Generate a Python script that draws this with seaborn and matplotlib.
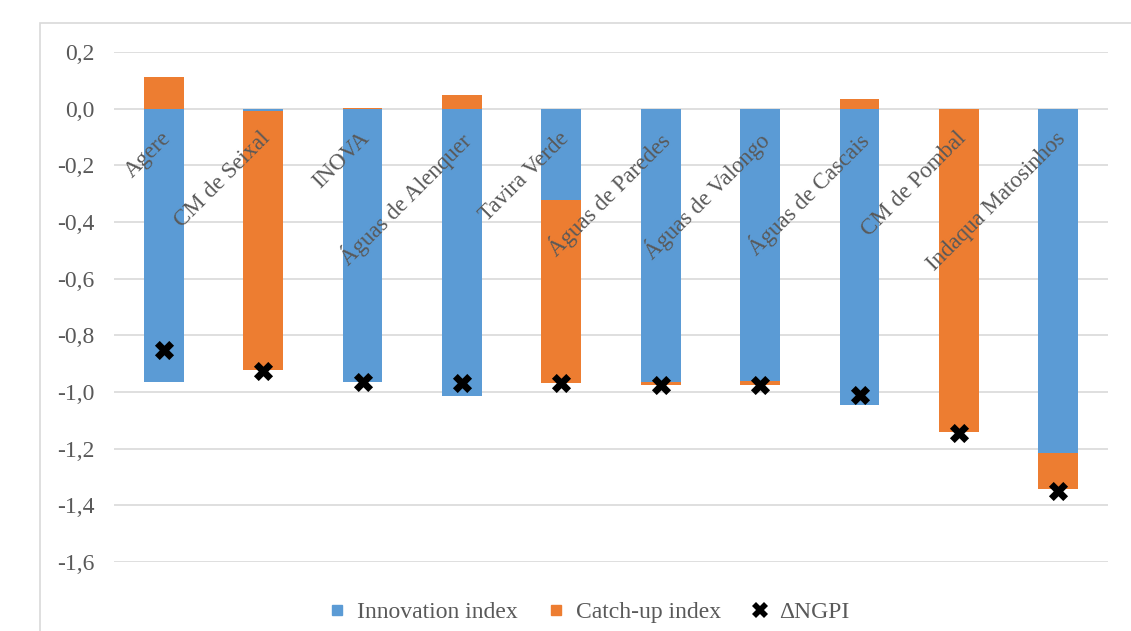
import matplotlib
matplotlib.use("Agg")
import matplotlib.pyplot as plt
from matplotlib.lines import Line2D
from matplotlib.patches import Rectangle
import numpy as np
import pandas as pd
import seaborn as sns

categories = ["Agere", "CM de Seixal", "INOVA", "Águas de Alenquer", "Tavira Verde",
              "Águas de Paredes", "Águas de Valongo", "Águas de Cascais", "CM de Pombal",
              "Indaqua Matosinhos"]
innovation = [-0.964, -0.010, -0.966, -1.014, -0.323, -0.964, -0.961, -1.047, 0.0, -1.217]
catch_up = [0.110, -0.911, 0.003, 0.047, -0.645, -0.012, -0.015, 0.033, -1.141, -0.127]
delta_ngpi = [-0.852, -0.925, -0.964, -0.969, -0.968, -0.977, -0.977, -1.011, -1.143, -1.349]
y_ticks = [0.2, 0.0, -0.2, -0.4, -0.6, -0.8, -1.0, -1.2, -1.4, -1.6]

BLUE = "#5B9BD5"
ORANGE = "#ED7D31"
GREY_TEXT = "#595959"
GRID = "#D9D9D9"

sns.set_theme(style="white")
plt.rcParams["font.family"] = ["Liberation Serif", "DejaVu Serif"]

inn = np.array(innovation)
cat = np.array(catch_up)
# stacked: same-sign segments continue from the end of the innovation bar
orange_end = np.where(np.sign(inn) == np.sign(cat), inn + cat, cat)

df = pd.DataFrame({"name": categories, "innovation": inn, "orange_end": orange_end,
                   "delta": delta_ngpi})

fig = plt.figure(figsize=(11.31, 6.31), dpi=100)
ax = fig.add_axes([114 / 1131, 1 - 562 / 631, 994 / 1131, 510 / 631])

# chart area border
fig.patches.append(Rectangle((40 / 1131, -0.2), 1.2, 1 - 23 / 631 + 0.2,
                             transform=fig.transFigure, fill=False,
                             edgecolor=GRID, linewidth=1.2, zorder=0))

sns.barplot(data=df, x="name", y="orange_end", color=ORANGE, width=0.4,
            saturation=1, linewidth=0, ax=ax, zorder=2)
sns.barplot(data=df, x="name", y="innovation", color=BLUE, width=0.4,
            saturation=1, linewidth=0, ax=ax, zorder=3)
sns.scatterplot(data=df, x="name", y="delta", marker="X", s=190, color="black",
                linewidth=0, ax=ax, zorder=5)

ax.set_ylim(-1.6, 0.2)
ax.set_xlim(-0.5, len(categories) - 0.5)
ax.set_yticks(y_ticks)
ax.set_yticklabels([f"{v:.1f}".replace(".", ",") for v in y_ticks],
                   fontsize=17, color=GREY_TEXT)
ax.yaxis.grid(True, color=GRID, linewidth=1.2, zorder=0)
ax.set_axisbelow(True)
ax.tick_params(axis="y", length=0, pad=14)
ax.set_xticks([])
ax.set_xlabel("")
ax.set_ylabel("")
for side in ["top", "right", "bottom", "left"]:
    ax.spines[side].set_visible(False)

for i, name in enumerate(categories):
    ax.text(i - 0.035, -0.068, name, rotation=45, rotation_mode="anchor", ha="right",
            va="top", fontsize=16.5, color=GREY_TEXT, zorder=6)

handles = [
    Line2D([], [], marker="s", linestyle="", markersize=6.5, color=BLUE),
    Line2D([], [], marker="s", linestyle="", markersize=6.5, color=ORANGE),
    Line2D([], [], marker="X", linestyle="", markersize=11, color="black", markeredgewidth=0),
]
leg = fig.legend(handles, ["Innovation index", "Catch-up index", "ΔNGPI"],
                 loc="center", bbox_to_anchor=(588.7 / 1131, 1 - 612 / 631), ncol=3,
                 frameon=False, fontsize=17, handletextpad=0.43, columnspacing=1.25,
                 handlelength=0.8, borderpad=0, borderaxespad=0)
for t in leg.get_texts():
    t.set_color(GREY_TEXT)

fig.savefig("out.png", dpi=100)
